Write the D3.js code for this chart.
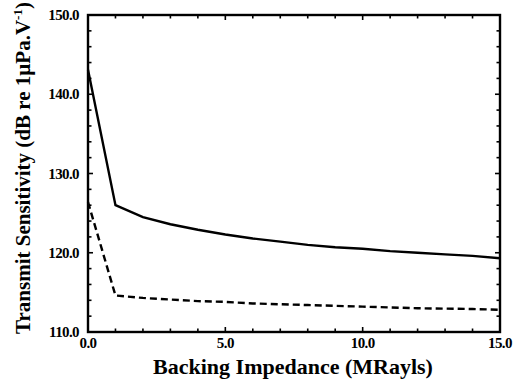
<!DOCTYPE html>
<html>
<head>
<meta charset="utf-8">
<script src="https://cdn.jsdelivr.net/npm/d3@7/dist/d3.min.js"></script>
<style>
  html, body { margin: 0; padding: 0; background: #fff; }
  svg text { font-family: "Liberation Serif", "DejaVu Serif", serif; fill: #000; }
</style>
</head>
<body>
<svg id="chart" width="515" height="384"></svg>
<script>
// Backing impedance (MRayls)
const impedance = [0, 1, 2, 3, 4, 5, 6, 7, 8, 9, 10, 11, 12, 13, 14, 15];
// Transmit sensitivity (dB re 1µPa/V), solid curve
const sensitivitySolid = [143.1, 126.0, 124.5, 123.6, 122.9, 122.3, 121.8, 121.4, 121.0, 120.7, 120.5, 120.2, 120.0, 119.8, 119.6, 119.3];
// Transmit sensitivity, dashed curve
const sensitivityDashed = [126.4, 114.6, 114.3, 114.1, 113.9, 113.8, 113.6, 113.5, 113.4, 113.3, 113.2, 113.1, 113.0, 112.95, 112.9, 112.8];

const xTicks = [0, 5, 10, 15];
const yTicks = [110, 120, 130, 140, 150];

const svg = d3.select("#chart");
const plotL = 88, plotR = 500, plotT = 15, plotB = 332;

const x = d3.scaleLinear().domain([0, 15]).range([plotL, plotR]);
const y = d3.scaleLinear().domain([110, 150]).range([plotB, plotT]);

// minor tick marks on all four sides, pointing inward
const g = svg.append("g");
const xMinor = d3.range(0, 15.01, 1);
const yMinor = d3.range(110, 150.01, 2);
xMinor.forEach(v => {
  const len = (v % 5 === 0) ? 5 : 3.5;
  g.append("line").attr("x1", x(v)).attr("x2", x(v)).attr("y1", plotB).attr("y2", plotB - len)
    .attr("stroke", "#000").attr("stroke-width", 1.6);
  g.append("line").attr("x1", x(v)).attr("x2", x(v)).attr("y1", plotT).attr("y2", plotT + len)
    .attr("stroke", "#000").attr("stroke-width", 1.6);
});
yMinor.forEach(v => {
  const len = (v % 10 === 0) ? 5 : 3.5;
  g.append("line").attr("y1", y(v)).attr("y2", y(v)).attr("x1", plotL).attr("x2", plotL + len)
    .attr("stroke", "#000").attr("stroke-width", 1.6);
  g.append("line").attr("y1", y(v)).attr("y2", y(v)).attr("x1", plotR).attr("x2", plotR - len)
    .attr("stroke", "#000").attr("stroke-width", 1.6);
});

// plot frame
svg.append("rect").attr("x", plotL).attr("y", plotT)
  .attr("width", plotR - plotL).attr("height", plotB - plotT)
  .attr("fill", "none").attr("stroke", "#000").attr("stroke-width", 2.4);

// tick labels
svg.append("g").selectAll("text").data(xTicks).join("text")
  .attr("x", d => x(d)).attr("y", 348)
  .attr("text-anchor", "middle")
  .attr("font-size", 15).attr("font-weight", "bold").attr("letter-spacing", -0.6)
  .text(d => d3.format(".1f")(d));

svg.append("g").selectAll("text").data(yTicks).join("text")
  .attr("x", 79).attr("y", d => y(d) + 5)
  .attr("text-anchor", "end")
  .attr("font-size", 15).attr("font-weight", "bold").attr("letter-spacing", -0.6)
  .text(d => d3.format(".1f")(d));

// data curves
const line = d3.line().x((d, i) => x(impedance[i])).y(d => y(d));
svg.append("path").datum(sensitivitySolid).attr("d", line)
  .attr("fill", "none").attr("stroke", "#000").attr("stroke-width", 2.4);
svg.append("path").datum(sensitivityDashed).attr("d", line)
  .attr("fill", "none").attr("stroke", "#000").attr("stroke-width", 2.4)
  .attr("stroke-dasharray", "7,4");

// axis titles
svg.append("text").attr("x", 293).attr("y", 374)
  .attr("text-anchor", "middle").attr("font-size", 22).attr("font-weight", "bold")
  .text("Backing Impedance (MRayls)");

const yl = svg.append("text")
  .attr("transform", "translate(30,168) rotate(-90)")
  .attr("text-anchor", "middle").attr("font-size", 21).attr("font-weight", "bold");
yl.append("tspan").text("Transmit Sensitivity (dB re 1\u00B5Pa.V");
yl.append("tspan").attr("dy", -8).attr("font-size", 13).text("-1");
yl.append("tspan").attr("dy", 8).text(")");
</script>
</body>
</html>
